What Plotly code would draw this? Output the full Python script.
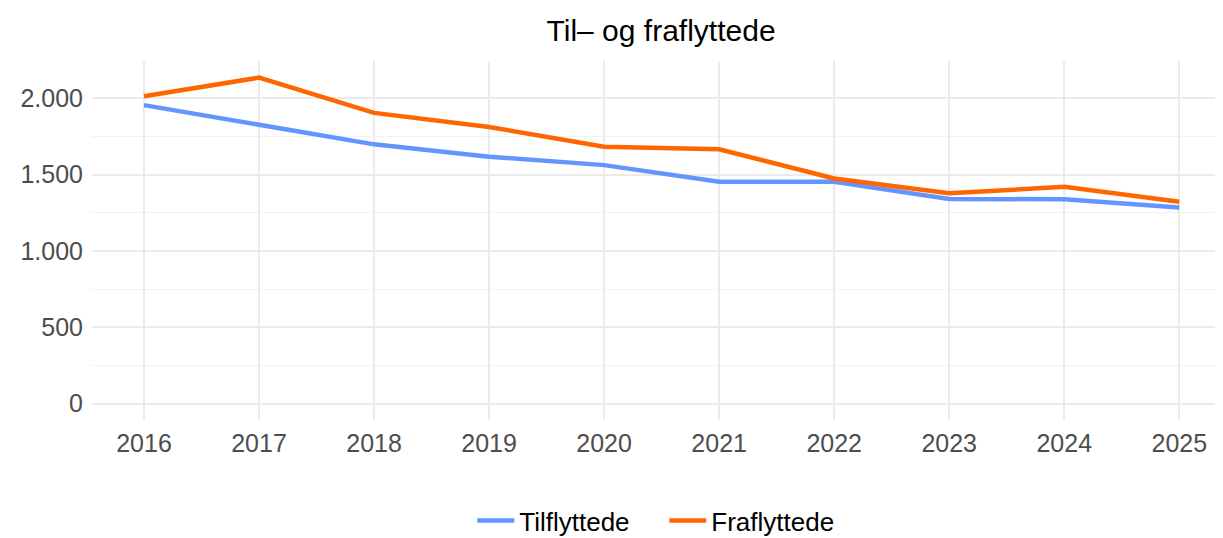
import plotly.graph_objects as go

years = [2016, 2017, 2018, 2019, 2020, 2021, 2022, 2023, 2024, 2025]
tilflyttede = [1955, 1830, 1698, 1617, 1562, 1453, 1453, 1340, 1339, 1285]
fraflyttede = [2013, 2135, 1904, 1812, 1683, 1666, 1475, 1378, 1420, 1322]
y_ticks = [0, 500, 1000, 1500, 2000]

fig = go.Figure()
fig.add_trace(go.Scatter(x=years, y=tilflyttede, mode="lines", name="Tilflyttede",
                         line=dict(color="#6495FF", width=4.5)))
fig.add_trace(go.Scatter(x=years, y=fraflyttede, mode="lines", name="Fraflyttede",
                         line=dict(color="#FF6600", width=4.5)))

fig.update_layout(
    width=1215, height=530,
    paper_bgcolor="white", plot_bgcolor="white",
    margin=dict(l=84, r=0, t=53, b=118, autoexpand=False),
    separators=",.",
    font=dict(family="Liberation Sans, Arial, sans-serif", size=25, color="#4d4d4d"),
    title=dict(text="Til\u2013 og fraflyttede", xref="container", x=0.5375, xanchor="center",
               yref="container", y=0.958, yanchor="middle",
               font=dict(size=30, color="black")),
    xaxis=dict(range=[2015.548, 2025.38], tickvals=years, showgrid=True, gridcolor="#ebebeb",
               gridwidth=2, zeroline=False, showline=False, ticks="",
               ticklabelstandoff=6,
               tickfont=dict(size=25, color="#4d4d4d")),
    yaxis=dict(range=[-106.8, 2243.8], tickvals=y_ticks, tickformat=",d", showgrid=True,
               gridcolor="#ebebeb", gridwidth=2, zeroline=False, showline=False, ticks="",
               ticklabelstandoff=8,
               tickfont=dict(size=25, color="#4d4d4d"),
               minor=dict(dtick=250, tick0=250, showgrid=True, gridcolor="#f2f2f2", gridwidth=1)),
    legend=dict(orientation="h", x=0.506, xanchor="center", y=-0.28, yanchor="middle",
                font=dict(size=26, color="black"), itemwidth=37, entrywidth=140),
    showlegend=True,
)

fig.write_html("out.html")
